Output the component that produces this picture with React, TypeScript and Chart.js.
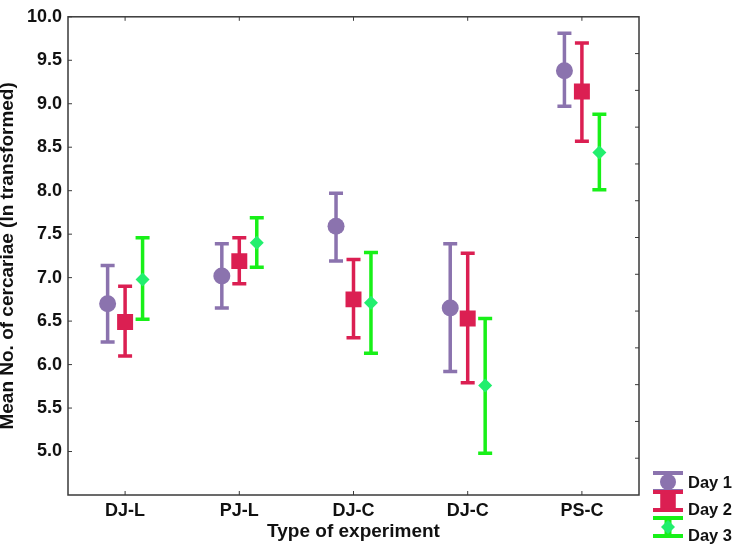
import React, { useEffect, useRef } from 'react';
import { Chart, registerables } from 'chart.js';

Chart.register(...registerables);

// ---- Data ----
const categories = ['DJ-L', 'PJ-L', 'DJ-C', 'DJ-C', 'PS-C'];
const seriesNames = ['Day 1', 'Day 2', 'Day 3'];

const day1Mean = [6.70, 7.02, 7.59, 6.65, 9.38];
const day1Upper = [7.14, 7.39, 7.97, 7.39, 9.81];
const day1Lower = [6.26, 6.65, 7.19, 5.92, 8.97];

const day2Mean = [6.49, 7.19, 6.75, 6.53, 9.14];
const day2Upper = [6.90, 7.46, 7.21, 7.28, 9.70];
const day2Lower = [6.10, 6.93, 6.31, 5.79, 8.57];

const day3Mean = [6.98, 7.40, 6.71, 5.76, 8.44];
const day3Upper = [7.46, 7.69, 7.29, 6.53, 8.88];
const day3Lower = [6.52, 7.12, 6.13, 4.98, 8.01];

const yMin = 4.5;
const yMax = 10;
const yStep = 0.5;
const firstLabeledTick = 5.0;

// ---- Styles ----
const FONT = '"Liberation Sans", Arial, Helvetica, sans-serif';
const PURPLE = '#8b73ae';
const RED = '#db1f52';
const GREEN_LINE = '#18f018';
const GREEN_FILL = '#22ef6e';
const AXIS = '#3a3a3a';

const dayOffsets = [-0.153, 0, 0.153];

function build(mean: number[], up: number[], lo: number[], k: number) {
  return categories.map((_, i) => ({ x: i + dayOffsets[k], y: mean[i], yMax: up[i], yMin: lo[i] }));
}

const errorBarPlugin = {
  id: 'errorBars',
  beforeDatasetsDraw(chart: any) {
    const ctx = chart.ctx;
    const ys = chart.scales.y;
    chart.data.datasets.forEach((ds: any, di: number) => {
      const meta = chart.getDatasetMeta(di);
      ctx.save();
      ctx.strokeStyle = ds.errorColor;
      ctx.lineWidth = 3.5;
      ctx.lineCap = 'butt';
      meta.data.forEach((el: any, j: number) => {
        const raw = ds.data[j];
        const top = ys.getPixelForValue(raw.yMax);
        const bot = ys.getPixelForValue(raw.yMin);
        ctx.beginPath();
        ctx.moveTo(el.x, top);
        ctx.lineTo(el.x, bot);
        ctx.moveTo(el.x - 7, top);
        ctx.lineTo(el.x + 7, top);
        ctx.moveTo(el.x - 7, bot);
        ctx.lineTo(el.x + 7, bot);
        ctx.stroke();
      });
      ctx.restore();
    });
  },
};

function drawMarker(ctx: CanvasRenderingContext2D, style: string, x: number, y: number, r: number, color: string) {
  ctx.fillStyle = color;
  ctx.beginPath();
  if (style === 'circle') {
    ctx.arc(x, y, r, 0, Math.PI * 2);
  } else if (style === 'rect') {
    const s = r * Math.SQRT1_2;
    ctx.rect(x - s, y - s, 2 * s, 2 * s);
  } else {
    ctx.moveTo(x, y - r);
    ctx.lineTo(x + r, y);
    ctx.lineTo(x, y + r);
    ctx.lineTo(x - r, y);
    ctx.closePath();
  }
  ctx.fill();
}

const framePlugin = {
  id: 'frameAndLegend',
  afterDraw(chart: any) {
    const ctx = chart.ctx;
    const { left, right, top, bottom } = chart.chartArea;
    const xs = chart.scales.x;
    const ys = chart.scales.y;
    const y2 = chart.scales.y2;
    ctx.save();
    ctx.strokeStyle = AXIS;
    ctx.lineWidth = 1.5;
    ctx.strokeRect(left, top, right - left, bottom - top);
    ctx.lineWidth = 1;
    ctx.beginPath();
    ys.ticks.forEach((t: any) => {
      if (t.value < firstLabeledTick - 1e-9) return;
      const py = ys.getPixelForValue(t.value);
      ctx.moveTo(left, py);
      ctx.lineTo(left + 4, py);
    });
    y2.ticks.forEach((t: any) => {
      if (t.value <= y2.min || t.value >= y2.max) return;
      const py = y2.getPixelForValue(t.value);
      ctx.moveTo(right, py);
      ctx.lineTo(right - 4, py);
    });
    xs.ticks.forEach((t: any) => {
      const px = xs.getPixelForValue(t.value);
      ctx.moveTo(px, bottom);
      ctx.lineTo(px, bottom - 4);
      ctx.moveTo(px, top);
      ctx.lineTo(px, top + 4);
    });
    ctx.stroke();

    // Legend (bottom right, outside the plot)
    const iconX = 668;
    const iconCy = [482, 501, 527];
    const textCy = [483, 510, 536];
    chart.data.datasets.forEach((ds: any, i: number) => {
      const cy = iconCy[i];
      ctx.strokeStyle = ds.errorColor;
      ctx.lineWidth = 4;
      ctx.beginPath();
      ctx.moveTo(iconX - 15, cy - 9);
      ctx.lineTo(iconX + 15, cy - 9);
      ctx.moveTo(iconX - 15, cy + 9);
      ctx.lineTo(iconX + 15, cy + 9);
      ctx.stroke();
      ctx.lineWidth = 7;
      ctx.beginPath();
      ctx.moveTo(iconX, cy - 9);
      ctx.lineTo(iconX, cy + 9);
      ctx.stroke();
      drawMarker(ctx, ds.pointStyle, iconX, cy, ds.legendRadius, ds.pointBackgroundColor);
      ctx.fillStyle = '#111';
      ctx.font = `bold 16.5px ${FONT}`;
      ctx.textAlign = 'left';
      ctx.textBaseline = 'middle';
      ctx.fillText(ds.label, 688, textCy[i]);
    });
    ctx.restore();
  },
};

export default function App() {
  const ref = useRef<HTMLCanvasElement>(null);

  useEffect(() => {
    if (!ref.current) return;
    const tickFont = { family: FONT, size: 18, weight: 'bold' as const };
    const chart = new Chart(ref.current, {
      type: 'scatter',
      data: {
        datasets: [
          {
            label: seriesNames[0],
            data: build(day1Mean, day1Upper, day1Lower, 0),
            pointStyle: 'circle',
            pointRadius: 8.5,
            pointBackgroundColor: PURPLE,
            pointBorderWidth: 0,
            borderColor: PURPLE,
            errorColor: PURPLE,
            legendRadius: 8,
          } as any,
          {
            label: seriesNames[1],
            data: build(day2Mean, day2Upper, day2Lower, 1),
            pointStyle: 'rect',
            pointRadius: 11.3,
            pointBackgroundColor: RED,
            pointBorderWidth: 0,
            borderColor: RED,
            errorColor: RED,
            legendRadius: 11,
          } as any,
          {
            label: seriesNames[2],
            data: build(day3Mean, day3Upper, day3Lower, 2),
            pointStyle: 'rectRot',
            pointRadius: 7,
            pointBackgroundColor: GREEN_FILL,
            pointBorderWidth: 0,
            borderColor: GREEN_FILL,
            errorColor: GREEN_LINE,
            legendRadius: 7,
          } as any,
        ],
      },
      options: {
        responsive: false,
        animation: false,
        layout: { padding: { top: 7, left: 0, right: 0, bottom: 0 } },
        plugins: { legend: { display: false }, tooltip: { enabled: false } },
        scales: {
          x: {
            type: 'linear',
            position: 'bottom',
            min: -0.5,
            max: 4.5,
            afterFit: (s: any) => { s.height = 56; },
            afterBuildTicks: (s: any) => { s.ticks = categories.map((_, i) => ({ value: i })); },
            grid: { display: false, drawTicks: false },
            border: { display: false },
            ticks: {
              autoSkip: false,
              maxRotation: 0,
              padding: 5,
              color: '#111',
              font: tickFont,
              callback: (v: any) => categories[Math.round(v)] ?? '',
            },
            title: {
              display: true,
              text: 'Type of experiment',
              color: '#111',
              font: { family: FONT, size: 19, weight: 'bold' },
              padding: { top: 0, bottom: 8 },
            },
          },
          y: {
            type: 'linear',
            position: 'left',
            min: yMin,
            max: yMax,
            afterFit: (s: any) => { s.width = 68; },
            grid: { display: false, drawTicks: false },
            border: { display: false },
            ticks: {
              stepSize: yStep,
              padding: 6,
              color: '#111',
              font: tickFont,
              callback: (v: any) => (v >= firstLabeledTick - 1e-9 ? Number(v).toFixed(1) : ''),
            },
            title: {
              display: true,
              text: 'Mean No. of cercariae (ln transformed)',
              color: '#111',
              font: { family: FONT, size: 19, weight: 'bold', lineHeight: 0.84 },
              padding: 0,
            },
          },
          y2: {
            type: 'linear',
            position: 'right',
            min: 0,
            max: 13,
            afterFit: (s: any) => { s.width = 101; },
            grid: { display: false, drawTicks: false },
            border: { display: false },
            ticks: { display: false, stepSize: 1 },
          },
        },
      } as any,
      plugins: [errorBarPlugin, framePlugin],
    });
    return () => chart.destroy();
  }, []);

  return (
    <div style={{ position: 'absolute', left: 0, top: 0, width: 740, height: 551, background: '#fff' }}>
      <canvas ref={ref} width={740} height={551} style={{ display: 'block' }} />
    </div>
  );
}
